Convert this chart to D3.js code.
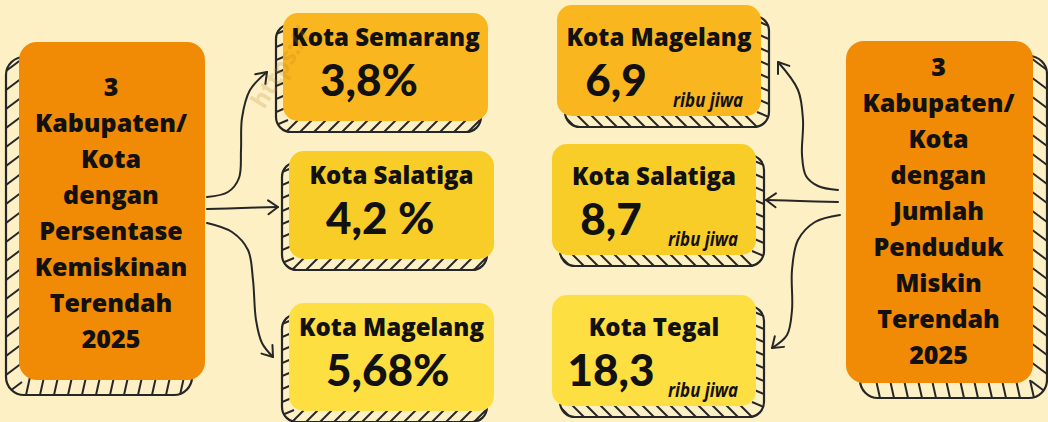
<!DOCTYPE html>
<html><head><meta charset="utf-8">
<script src="https://cdn.jsdelivr.net/npm/d3@7"></script>
<style>html,body{margin:0;padding:0;background:#FDF0C5;}svg{display:block;}</style>
</head><body>
<svg id="chart" width="1048" height="422"></svg>
<script>
// ---------- data ----------
const leftHeading = ["3","Kabupaten/","Kota","dengan","Persentase","Kemiskinan","Terendah","2025"];
const rightHeading = ["3","Kabupaten/","Kota","dengan","Jumlah","Penduduk","Miskin","Terendah","2025"];
const pctCities = ["Kota Semarang","Kota Salatiga","Kota Magelang"];
const pctValues = ["3,8%","4,2 %","5,68%"];
const popCities = ["Kota Magelang","Kota Salatiga","Kota Tegal"];
const popValues = [6.9, 8.7, 18.3];
const popUnit = "ribu jiwa";

// ---------- layout / style ----------
const W = 1048, H = 422;
const bg = "#FDF0C5", ink = "#262626";
const cardColors = ["#FAB61F","#F9CD27","#FEDF41"];
const orange = "#F18A05";
const svg = d3.select("#chart");
svg.append("rect").attr("width",W).attr("height",H).attr("fill",bg);

const fmt = v => d3.format(".1f")(v).replace(".", ",");

const leftBox = {x:19,y:42,w:186,h:338,r:18,dx:-13,dy:15,side:"left"};
const rightBox = {x:846,y:41,w:187,h:342,r:18,dx:14,dy:15,side:"right"};
const leftCards = [{x:283,y:13},{x:289,y:151},{x:289,y:303}].map(c=>({...c,w:205,h:108,r:15,dx:-7,dy:11,side:"left"}));
const rightCards = [{x:557,y:5},{x:552,y:144},{x:552,y:295}].map(c=>({...c,w:204,h:111,r:15,dx:8,dy:11,side:"right"}));

let clipId = 0;
function hatchedBox(g, b, fill, bigStyle){
  const sx = b.x + b.dx, sy = b.y + b.dy;
  const id = "clip" + (clipId++);
  g.append("clipPath").attr("id", id).append("rect")
    .attr("x", sx).attr("y", sy).attr("width", b.w).attr("height", b.h).attr("rx", b.r);
  const hg = g.append("g").attr("clip-path", `url(#${id})`);
  const segs = [];
  const dir = b.side === "left" ? 1 : -1;
  const edgeX = b.side === "left" ? sx : sx + b.w;
  const bottom = sy + b.h;
  if (bigStyle) {
    for (let y = sy + 14; y < bottom; y += 19) segs.push([edgeX, y, edgeX + dir*16, y - 12]);
    for (let x = sx + 20; x < sx + b.w; x += 14) segs.push([x, bottom, x + dir*4, bottom - 18]);
  } else {
    for (let y = sy + 10; y < bottom; y += 13) segs.push([edgeX, y, edgeX + dir*12, y - 5]);
    for (let x = sx + 10; x < sx + b.w; x += 14) segs.push([x, bottom, x + dir*12, bottom - 12]);
  }
  hg.selectAll("line").data(segs).join("line")
    .attr("x1",d=>d[0]).attr("y1",d=>d[1]).attr("x2",d=>d[2]).attr("y2",d=>d[3])
    .attr("stroke", ink).attr("stroke-width", 2);
  g.append("rect").attr("x", sx).attr("y", sy).attr("width", b.w).attr("height", b.h).attr("rx", b.r)
    .attr("fill","none").attr("stroke", ink).attr("stroke-width", 2.2);
  g.append("rect").attr("x", b.x).attr("y", b.y).attr("width", b.w).attr("height", b.h).attr("rx", b.r)
    .attr("fill", fill);
}

// big orange boxes
function headingBox(b, lines, top){
  const g = svg.append("g");
  hatchedBox(g, b, orange, true);
  g.append("text").attr("text-anchor","middle")
    .attr("font-family","'Open Sans', 'Noto Sans', sans-serif").attr("font-weight",800)
    .attr("font-size",25).attr("fill","#111")
    .selectAll("tspan").data(lines).join("tspan")
    .attr("x", b.x + b.w/2 - 1).attr("y",(d,i)=> top + i*36)
    .text(d=>d);
}
headingBox(leftBox, leftHeading, 96);
headingBox(rightBox, rightHeading, 76);

// cards
const titleFont = "'Open Sans', 'Noto Sans', sans-serif";
const valueFont = "Lato, Roboto, sans-serif";
leftCards.forEach((c,i)=>{
  const g = svg.append("g");
  hatchedBox(g, c, cardColors[i], false);
  g.append("text").attr("x", c.x + c.w/2).attr("y", c.y + 33).attr("text-anchor","middle")
    .attr("font-family", titleFont).attr("font-weight",800).attr("font-size",24).attr("fill","#111")
    .text(pctCities[i]);
  g.append("text").attr("x", c.x + 37).attr("y", c.y + 83)
    .attr("font-family", valueFont).attr("font-weight",900).attr("font-size",44).attr("fill","#111")
    .text(pctValues[i]);
});
rightCards.forEach((c,i)=>{
  const g = svg.append("g");
  hatchedBox(g, c, cardColors[i], false);
  g.append("text").attr("x", c.x + c.w/2).attr("y", c.y + 41).attr("text-anchor","middle")
    .attr("font-family", titleFont).attr("font-weight",800).attr("font-size",24).attr("fill","#111")
    .text(popCities[i]);
  g.append("text").attr("x", c.x + 59).attr("y", c.y + 91).attr("text-anchor","middle")
    .attr("font-family", valueFont).attr("font-weight",900).attr("font-size",44).attr("fill","#111")
    .text(fmt(popValues[i]));
  g.append("text").attr("x", c.x + c.w - 18).attr("y", c.y + 102).attr("text-anchor","end")
    .attr("font-family", titleFont).attr("font-style","italic").attr("font-weight",700).attr("font-size",20)
    .attr("textLength",70).attr("lengthAdjust","spacingAndGlyphs").attr("fill","#111")
    .text(popUnit);
});

// connector arrows (hand-drawn style)
const arrows = [
  [[207,197],[228,192],[239,178],[241,150],[242,118],[250,90],[267,72]],
  [[207,209],[242,208],[278,207]],
  [[207,223],[232,232],[248,250],[253,280],[256,320],[262,343],[273,357]],
  [[838,190],[818,186],[806,176],[802,155],[803,120],[798,90],[778,62]],
  [[838,202],[800,201],[766,200]],
  [[840,215],[815,222],[798,240],[792,270],[792,310],[787,335],[772,348]]
];
const line = d3.line().curve(d3.curveCatmullRom.alpha(0.5));
const ag = svg.append("g").attr("fill","none").attr("stroke",ink).attr("stroke-width",2).attr("stroke-linecap","round").attr("stroke-linejoin","round");
arrows.forEach(pts=>{
  ag.append("path").attr("d", line(pts));
  const [tx,ty] = pts[pts.length-1], [px,py] = pts[pts.length-2];
  const ang = Math.atan2(ty-py, tx-px);
  const L = 12, s = 0.62;
  const a1 = [tx - L*Math.cos(ang - s), ty - L*Math.sin(ang - s)];
  const a2 = [tx - L*Math.cos(ang + s), ty - L*Math.sin(ang + s)];
  ag.append("path").attr("d", d3.line()([a1,[tx,ty],a2]));
});

// faint watermark
svg.append("text").attr("transform","translate(264,110) rotate(-58)")
  .attr("font-family","'Open Sans', sans-serif").attr("font-weight",700).attr("font-size",24)
  .attr("fill","#B8802E").attr("opacity",0.22).text("https://");
</script>
</body></html>
